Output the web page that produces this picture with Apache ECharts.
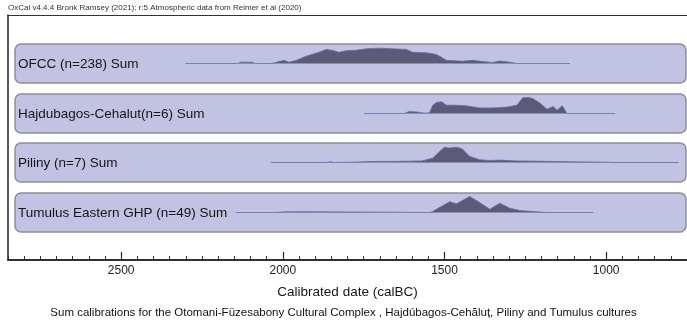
<!DOCTYPE html>
<html>
<head>
<meta charset="utf-8">
<script src="https://cdn.jsdelivr.net/npm/echarts@6/dist/echarts.min.js"></script>
<style>
  html, body { margin: 0; padding: 0; background: #fff; }
  #chart { width: 687px; height: 326px; }
</style>
</head>
<body>
<div id="chart"></div>
<script>
// sum distributions, [calBC year, relative probability]
const ofcc = [[2301,0],[2140,0],[2130,0.08],[2095,0.08],[2085,0],[2034,0],[2012,0.12],[1995,0.2],[1981,0.08],[1960,0.18],[1928,0.46],[1888,0.7],[1866,0.875],[1848,0.83],[1826,0.7],[1804,0.8],[1773,0.83],[1742,0.92],[1702,0.96],[1661,0.92],[1618,0.88],[1599,0.7],[1556,0.67],[1525,0.56],[1506,0.35],[1494,0.2],[1444,0.14],[1413,0.2],[1382,0.12],[1351,0.06],[1329,0.16],[1298,0.08],[1276,0],[1112,0]]
const hajdubagos = [[1748,0],[1625,0],[1609,0.12],[1587,0.1],[1560,0.02],[1546,0.05],[1537,0.5],[1525,0.69],[1509,0.73],[1494,0.52],[1463,0.52],[1432,0.48],[1391,0.35],[1351,0.35],[1307,0.4],[1276,0.52],[1258,0.98],[1240,1.0],[1227,0.94],[1205,0.65],[1183,0.27],[1164,0.44],[1152,0.2],[1136,0.48],[1121,0],[972,0]]
const piliny = [[2037,0],[1870,0],[1866,0.04],[1851,0.04],[1840,0],[1764,0.03],[1730,0.06],[1680,0.07],[1620,0.08],[1570,0.1],[1537,0.27],[1515,0.69],[1500,0.96],[1485,0.9],[1463,0.96],[1445,0.85],[1422,0.38],[1391,0.17],[1360,0.13],[1329,0.15],[1280,0.1],[1200,0.08],[1100,0.04],[997,0.02],[980,0],[776,0]]
const tumulus = [[2146,0],[2025,0],[2022,0.04],[1991,0.04],[1985,0],[1978,0.05],[1915,0.05],[1910,0],[1545,0],[1537,0.06],[1506,0.42],[1484,0.67],[1463,0.54],[1422,1.0],[1391,0.62],[1360,0.2],[1329,0.58],[1298,0.27],[1267,0.12],[1214,0.04],[1180,0],[1040,0]]

const names = ['OFCC (n=238) Sum', 'Hajdubagos-Cehalut(n=6) Sum', 'Piliny (n=7) Sum', 'Tumulus Eastern GHP (n=49) Sum']
const sums = [ofcc, hajdubagos, piliny, tumulus]
const tickLabels = [2500, 2000, 1500, 1000]

const font = 'Liberation Sans, Arial, sans-serif'
const xMin = 750, xMax = 2850
const plotTop = 15, plotBottom = 260
const baselines = [63.5, 113.5, 162.5, 212.5]
const panelTops = [44, 94, 143, 193]
const peakH = 16

let dom = document.getElementById('chart')
let chart = echarts.init(dom)

// one grid: date axis at the bottom, one hidden y axis per panel placing its baseline
let xAxes = [{
  type: 'value', position: 'bottom', min: xMin, max: xMax, inverse: true,
  name: 'Calibrated date (calBC)', nameLocation: 'middle', nameGap: 25,
  nameTextStyle: { fontSize: 13.5, color: '#151515', fontFamily: font },
  axisLine: { show: true, onZero: false, lineStyle: { color: '#222', width: 1.5 } },
  axisTick: { show: true, inside: true, length: 8, customValues: tickLabels, lineStyle: { color: '#222', width: 1.2 } },
  axisLabel: {
    show: true, customValues: tickLabels, margin: 5, fontSize: 12, color: '#222', fontFamily: font,
    formatter: function (v) { return String(v) }
  },
  splitLine: { show: false }
}, {
  type: 'value', position: 'bottom', min: xMin, max: xMax, interval: 50, inverse: true,
  axisLine: { show: true, onZero: false, lineStyle: { color: '#222', width: 1.5 } },
  axisTick: { show: true, inside: true, length: 4, lineStyle: { color: '#333', width: 1 } },
  axisLabel: { show: false },
  splitLine: { show: false }
}, {
  type: 'value', position: 'top', min: xMin, max: xMax, inverse: true,
  axisLine: { show: true, onZero: false, lineStyle: { color: '#333', width: 1.2 } },
  axisTick: { show: false }, axisLabel: { show: false }, splitLine: { show: false }
}]
let yAxes = [{
  type: 'value', position: 'left', min: 0, max: 1,
  axisLine: { show: true, onZero: false, lineStyle: { color: '#222', width: 1.5 } },
  axisTick: { show: false }, axisLabel: { show: false }, splitLine: { show: false }
}]
let series = [], graphics = []

sums.forEach(function (d, i) {
  yAxes.push({
    type: 'value', show: false,
    min: -(plotBottom - baselines[i]) / peakH,
    max: (baselines[i] - plotTop) / peakH
  })
  series.push({
    name: names[i],
    type: 'line',
    xAxisIndex: i < 2 ? 0 : 1,
    yAxisIndex: i + 1,
    data: d,
    showSymbol: false,
    silent: true,
    lineStyle: { color: '#6a6aaa', width: 0.8 },
    areaStyle: { color: '#5b5b78', opacity: 1, origin: 0 },
    z: 5
  })
  // panel box
  graphics.push({
    type: 'rect',
    shape: { x: 15, y: panelTops[i], width: 671, height: 39, r: 6 },
    style: { fill: '#c2c2e2', stroke: '#8e8e9a', lineWidth: 1.5 },
    z: 0
  })
  graphics.push({
    type: 'text',
    x: 18,
    y: baselines[i] + 1,
    style: { text: names[i], font: '13.5px ' + font, fill: '#151515', verticalAlign: 'middle' },
    z: 10
  })
})

let option = {
  backgroundColor: '#fff',
  animation: false,
  title: [{
    text: 'OxCal v4.4.4 Bronk Ramsey (2021); r:5 Atmospheric data from Reimer et al (2020)',
    left: 8, top: 4, padding: 0,
    textStyle: { fontSize: 8, fontWeight: 'normal', color: '#333', fontFamily: font }
  }, {
    text: 'Sum calibrations for the Otomani-Füzesabony Cultural Complex , Hajdúbagos-Cehăluț, Piliny and Tumulus cultures',
    left: 'center', top: 307, padding: 0,
    textStyle: { fontSize: 11.5, fontWeight: 'normal', color: '#111', fontFamily: font }
  }],
  grid: { left: 8, right: 0, top: plotTop, bottom: 326 - plotBottom },
  xAxis: xAxes,
  yAxis: yAxes,
  series: series,
  graphic: graphics
}

chart.setOption(option)
window.onresize = function () {
  chart.resize()
}
</script>
</body>
</html>
